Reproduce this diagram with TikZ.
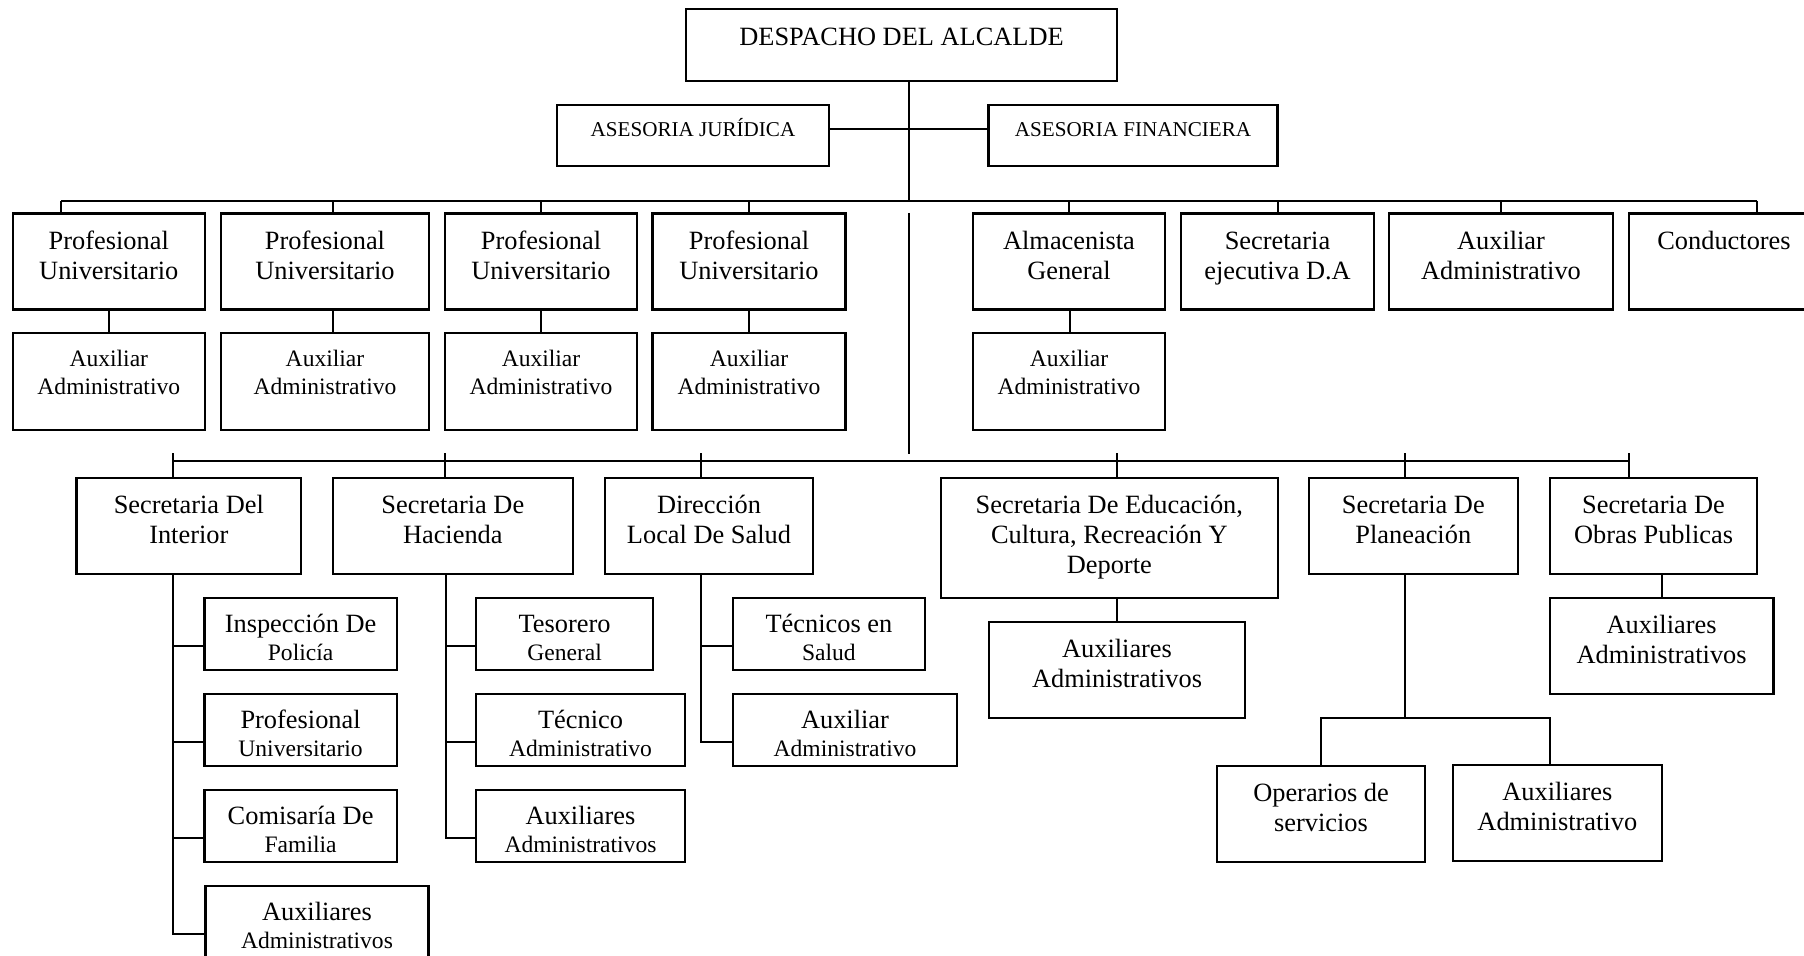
\documentclass[tikz,border=0pt]{standalone}
\usepackage{fontspec}
\setmainfont{Liberation Serif}
\newcommand{\tx}[2][0.9pt]{\raisebox{#1}[\height][\depth]{\begin{tabular}{@{}c@{}}#2\end{tabular}}}
\newcommand{\sm}{\fontsize{6.7}{8}\selectfont}
\begin{document}
\begin{tikzpicture}[x=0.01cm,y=-0.01cm,line width=0.5pt,
  box/.style={draw,line width=0.6pt,inner sep=0pt,font=\fontsize{7.5}{8.5}\selectfont},
  sz/.style 2 args={minimum width=#1*0.01cm,minimum height=#2*0.01cm},
  small box/.style={box,font=\fontsize{6.7}{8}\selectfont},
  tiny box/.style={box,font=\fontsize{6}{7}\selectfont},
  leaf/.style={box,font=\fontsize{7.5}{8}\selectfont}]
\useasboundingbox (0,0) rectangle (1804,955);

% the head and its advisers
\node[box,sz={431}{72}] (desp) at (901.5,45) {\tx[1.5pt]{DESPACHO DEL ALCALDE}};
\node[tiny box,sz={272}{61}] (aj) at (693,135.5) {\tx[1.25pt]{ASESORIA JURÍDICA}};
\node[tiny box,sz={289}{61}] (af) at (1133,135.5) {\tx[1.25pt]{ASESORIA FINANCIERA}};

% first row under the head
\node[box,sz={192}{96}] (pu1) at (108.8,261.5) {\tx{Profesional\\Universitario}};
\node[box,sz={208}{96}] (pu2) at (325,261.5) {\tx{Profesional\\Universitario}};
\node[box,sz={192}{96}] (pu3) at (541,261.5) {\tx{Profesional\\Universitario}};
\node[box,sz={193}{96}] (pu4) at (749,261.5) {\tx{Profesional\\Universitario}};
\node[box,sz={192}{96}] (alm) at (1069,261.5) {\tx{Almacenista\\General}};
\node[box,sz={193}{96}] (sej) at (1277.5,261.5) {\tx{Secretaria\\ejecutiva D.A}};
\node[box,sz={224}{96}] (auxd) at (1501,261.5) {\tx{Auxiliar\\Administrativo}};
\node[box,sz={190}{96}] (cond) at (1724,261.5) {\tx[5pt]{Conductores}};

\node[small box,sz={192}{97}] (a1) at (108.8,381.5) {\tx[1.8pt]{Auxiliar\\Administrativo}};
\node[small box,sz={208}{97}] (a2) at (325,381.5) {\tx[1.8pt]{Auxiliar\\Administrativo}};
\node[small box,sz={192}{97}] (a3) at (541,381.5) {\tx[1.8pt]{Auxiliar\\Administrativo}};
\node[small box,sz={193}{97}] (a4) at (749,381.5) {\tx[1.8pt]{Auxiliar\\Administrativo}};
\node[small box,sz={192}{97}] (a5) at (1069,381.5) {\tx[1.8pt]{Auxiliar\\Administrativo}};

% the secretaries
\node[box,sz={224.5}{96}] (si) at (188.8,526) {\tx{Secretaria Del\\Interior}};
\node[box,sz={240.5}{96}] (sh) at (452.8,526) {\tx{Secretaria De\\Hacienda}};
\node[box,sz={208}{96}] (ds) at (709,526) {\tx{Dirección\\Local De Salud}};
\node[box,sz={336.6}{120}] (se) at (1109.3,537.7) {\tx[0pt]{Secretaria De Educación,\\Cultura, Recreación Y\\Deporte}};
\node[box,sz={208.5}{96}] (sp) at (1413.3,526) {\tx{Secretaria De\\Planeación}};
\node[box,sz={207.5}{96}] (so) at (1653.5,526) {\tx{Secretaria De\\Obras Publicas}};

% their staff
\node[leaf,sz={192.3}{72}] (i1) at (300.6,634) {\tx[-1.9pt]{Inspección De\\\sm Policía}};
\node[leaf,sz={192.3}{72}] (i2) at (300.6,730) {\tx[-1.9pt]{Profesional\\\sm Universitario}};
\node[leaf,sz={192.3}{72}] (i3) at (300.6,826) {\tx[-1.9pt]{Comisaría De\\\sm Familia}};
\node[leaf,sz={223}{72}] (i4) at (317,922) {\tx[-1.9pt]{Auxiliares\\\sm Administrativos}};
\node[leaf,sz={176.4}{72}] (h1) at (564.6,634) {\tx[-1.9pt]{Tesorero\\\sm General}};
\node[leaf,sz={208.2}{72}] (h2) at (580.5,730) {\tx[-1.9pt]{Técnico\\\sm Administrativo}};
\node[leaf,sz={208.2}{72}] (h3) at (580.5,826) {\tx[-1.9pt]{Auxiliares\\\sm Administrativos}};
\node[leaf,sz={191.7}{72}] (d1) at (828.9,634) {\tx[-1.9pt]{Técnicos en\\\sm Salud}};
\node[leaf,sz={224}{72}] (d2) at (845,730) {\tx[-1.9pt]{Auxiliar\\\sm Administrativo}};
\node[box,sz={256}{96}] (e1) at (1117,669.7) {\tx{Auxiliares\\Administrativos}};
\node[box,sz={208}{96}] (p1) at (1321,814) {\tx{Operarios de\\servicios}};
\node[box,sz={208.6}{96}] (p2) at (1557.3,813) {\tx{Auxiliares\\Administrativo}};
\node[box,sz={223.7}{96}] (o1) at (1661.6,645.9) {\tx{Auxiliares\\Administrativos}};

% lines from the head
\coordinate (b1) at (909,201);
\coordinate (bl) at (61,201);
\coordinate (br) at (1757,201);
\coordinate (lj) at (909,129);
\draw (desp.south -| b1) -- (b1);
\draw (aj.east |- lj) -- (af.west |- lj);
\draw (bl) -- (br);
\foreach \n/\x in {pu1/61,pu2/333,pu3/541,pu4/749,alm/1069,sej/1278,auxd/1501,cond/1757} {
\coordinate (t) at (\x,201);
\draw (t) -- (t |- \n.north);
}
\foreach \p/\c/\x in {pu1/a1/109,pu2/a2/333,pu3/a3/541,pu4/a4/749,alm/a5/1070} {
\coordinate (t) at (\x,0);
\draw (t |- \p.south) -- (t |- \c.north);
}

% trunk down to the secretaries
\coordinate (m1) at (909,213);
\coordinate (m2) at (909,454);
\coordinate (b2l) at (173,461);
\coordinate (b2r) at (1629,461);
\draw (m1) -- (m2);
\draw (b2l) -- (b2r);
\foreach \n/\x in {si/173,sh/445,ds/701,se/1117,sp/1405,so/1629} {
\coordinate (t) at (\x,453);
\draw (t) -- (t |- \n.north);
}

% staff lines
\coordinate (ti) at (173,0);
\coordinate (th) at (446,0);
\coordinate (td) at (701,0);
\foreach \c in {i1,i2,i3,i4}
\draw (ti |- si.south) |- ([yshift=-.12cm]\c.west);
\foreach \c in {h1,h2,h3}
\draw (th |- sh.south) |- ([yshift=-.12cm]\c.west);
\foreach \c in {d1,d2}
\draw (td |- ds.south) |- ([yshift=-.12cm]\c.west);
\draw (e1.north |- se.south) -- (e1.north);
\draw (o1.north |- so.south) -- (o1.north);
\coordinate (tp) at (1405,718);
\coordinate (tq) at (1550,718);
\draw (tp |- sp.south) -- (tp);
\draw (p1.north) |- (tp) -- (tq) -- (tq |- p2.north);

\end{tikzpicture}
\end{document}
